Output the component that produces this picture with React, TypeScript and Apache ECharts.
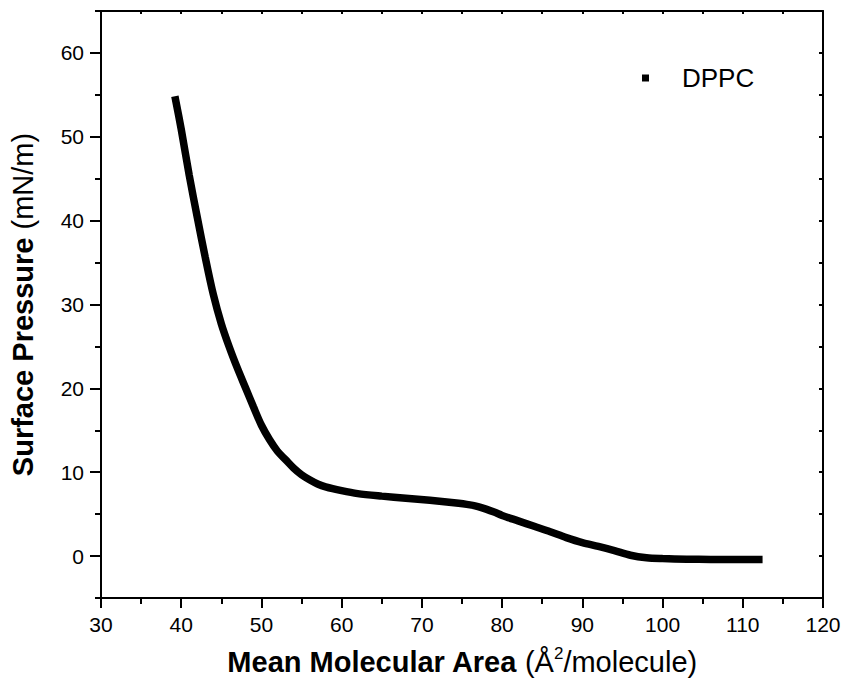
import React, { useEffect, useRef } from "react";
import * as echarts from "echarts";

const areaValues: number[] = [
  39.3, 40, 41, 42, 43, 44, 45, 46, 47, 48, 49, 50, 51, 52, 53, 54, 55, 56, 57, 58,
  60, 62, 65, 68, 71, 74, 76, 77, 78, 79, 80, 82, 84, 86, 88, 90, 92, 94, 96, 98,
  100, 103, 106, 109, 112,
];
const pressureValues: number[] = [
  54.4, 50.9, 45.4, 40.4, 35.6, 31.2, 27.7, 24.9, 22.4, 20.1, 17.8, 15.6, 13.9, 12.5, 11.5, 10.5, 9.7, 9.1, 8.6, 8.25,
  7.8, 7.45, 7.15, 6.9, 6.65, 6.35, 6.1, 5.9, 5.6, 5.25, 4.85, 4.2, 3.55, 2.9, 2.2, 1.6, 1.15, 0.65, 0.1, -0.2,
  -0.3, -0.38, -0.4, -0.42, -0.42,
];
const seriesName = "DPPC";
const yMajorTicks: number[] = [0, 10, 20, 30, 40, 50, 60];

const FONT = "'Liberation Sans', Arial, sans-serif";

export default function App() {
  const ref = useRef<HTMLDivElement>(null);

  useEffect(() => {
    if (!ref.current) return;
    const chart = echarts.init(ref.current, null, { renderer: "svg" });
    const data = areaValues.map((x, i) => [x, pressureValues[i]]);
    const lineStyle = { color: "#000", width: 2 };

    chart.setOption({
      animation: false,
      backgroundColor: "#fff",
      textStyle: { fontFamily: FONT, color: "#000" },
      grid: { left: 101, right: 26, top: 11, bottom: 96, containLabel: false },
      legend: {
        show: true,
        left: 642,
        top: 65,
        padding: 0,
        icon: "rect",
        itemWidth: 7,
        itemHeight: 7,
        itemGap: 0,
        textStyle: { fontFamily: FONT, fontSize: 26, color: "#000", padding: [0, 0, 0, 28] },
        data: [seriesName],
      },
      xAxis: [
        {
          type: "value",
          position: "bottom",
          min: 30,
          max: 120,
          interval: 10,
          axisLine: { show: true, onZero: false, lineStyle },
          axisTick: { show: true, inside: false, length: 10, lineStyle },
          minorTick: { show: true, splitNumber: 2, length: 6, lineStyle },
          splitLine: { show: false },
          axisLabel: { fontFamily: FONT, fontSize: 21, color: "#000", margin: 16 },
          name: "{b|Mean Molecular Area }{n|(Å}{s|2}{n|/molecule)}",
          nameLocation: "middle",
          nameGap: 47,
          nameTextStyle: {
            fontFamily: FONT,
            color: "#000",
            rich: {
              b: { fontFamily: FONT, fontSize: 29, fontWeight: "bold", color: "#000", lineHeight: 33 },
              n: { fontFamily: FONT, fontSize: 29, color: "#000", lineHeight: 33 },
              s: { fontFamily: FONT, fontSize: 17, color: "#000", verticalAlign: "top", lineHeight: 33 },
            },
          },
        },
        {
          type: "value",
          position: "top",
          min: 30,
          max: 120,
          interval: 5,
          axisLine: { show: true, onZero: false, lineStyle },
          axisTick: { show: true, inside: true, length: 3, lineStyle },
          axisLabel: { show: false },
          splitLine: { show: false },
        },
      ],
      yAxis: [
        {
          type: "value",
          position: "left",
          min: -5,
          max: 65,
          interval: 5,
          axisLine: { show: true, onZero: false, lineStyle },
          axisTick: { show: true, inside: false, length: 11, lineStyle, customValues: yMajorTicks },
          splitLine: { show: false },
          axisLabel: { fontFamily: FONT, fontSize: 21, color: "#000", margin: 17, customValues: yMajorTicks },
          name: "{b|Surface Pressure }{n|(mN/m)}",
          nameLocation: "middle",
          nameGap: 64,
          nameTextStyle: {
            fontFamily: FONT,
            color: "#000",
            rich: {
              b: { fontFamily: FONT, fontSize: 29, fontWeight: "bold", color: "#000" },
              n: { fontFamily: FONT, fontSize: 29, color: "#000" },
            },
          },
        },
        {
          type: "value",
          position: "left",
          min: -5,
          max: 65,
          interval: 5,
          axisLine: { show: false },
          axisTick: { show: true, inside: false, length: 6, lineStyle },
          axisLabel: { show: false },
          splitLine: { show: false },
        },
        {
          type: "value",
          position: "right",
          min: -5,
          max: 65,
          interval: 5,
          axisLine: { show: true, onZero: false, lineStyle },
          axisTick: { show: true, inside: true, length: 4, lineStyle },
          axisLabel: { show: false },
          splitLine: { show: false },
        },
      ],
      series: [
        {
          name: seriesName,
          type: "line",
          xAxisIndex: 0,
          yAxisIndex: 0,
          data,
          smooth: 0.3,
          showSymbol: false,
          symbol: "rect",
          symbolSize: 7,
          itemStyle: { color: "#000" },
          lineStyle: { color: "#000", width: 7.5, cap: "square" },
        },
      ],
    });

    return () => chart.dispose();
  }, []);

  return (
    <div
      ref={ref}
      style={{ position: "fixed", left: 0, top: 0, width: 849, height: 694, background: "#fff" }}
    />
  );
}
